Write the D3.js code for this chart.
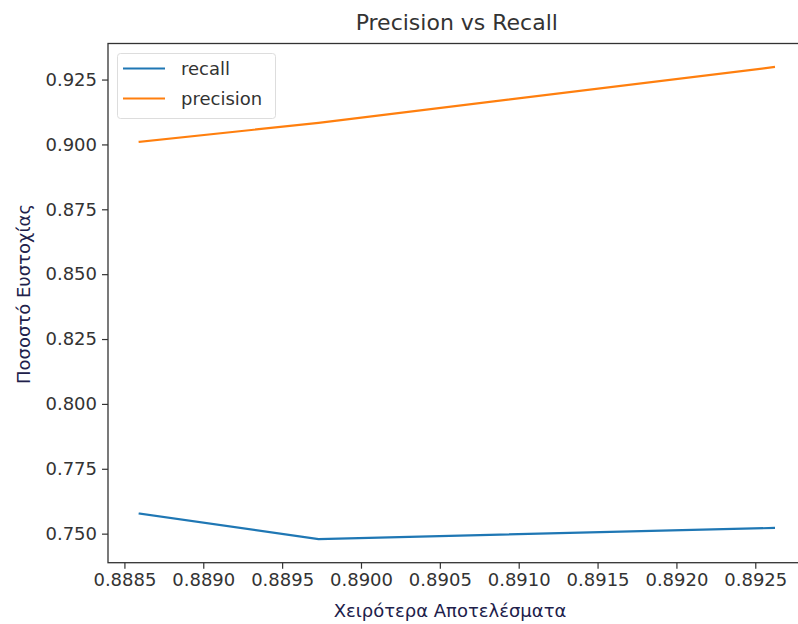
<!DOCTYPE html>
<html>
<head>
<meta charset="utf-8">
<script src="https://cdn.jsdelivr.net/npm/d3@7"></script>
<style>
  body { margin: 0; background: #fff; }
  svg { display: block; }
  text { font-family: "DejaVu Sans", sans-serif; }
</style>
</head>
<body>
<div id="chart"></div>
<script>
// data
const xValues = [0.888597, 0.889731, 0.892618];
const recall = [0.7577, 0.7479, 0.7522];
const precision = [0.9010, 0.9083, 0.9298];
const xTicks = [0.8885, 0.8890, 0.8895, 0.8900, 0.8905, 0.8910, 0.8915, 0.8920, 0.8925];
const yTicks = [0.750, 0.775, 0.800, 0.825, 0.850, 0.875, 0.900, 0.925];
const seriesNames = ["recall", "precision"];
const seriesColors = ["#1f77b4", "#ff7f0e"];

const width = 798, height = 624;
const margin = { top: 43.5, right: -7.6, bottom: 61.3, left: 108 };

const svg = d3.select("#chart")
  .append("svg")
  .attr("width", width)
  .attr("height", height);

// matplotlib-like 5% padding around the data
const xPad = (d3.max(xValues) - d3.min(xValues)) * 0.05;
const allY = recall.concat(precision);
const yPad = (d3.max(allY) - d3.min(allY)) * 0.05;

const x = d3.scaleLinear()
  .domain([d3.min(xValues) - xPad, d3.max(xValues) + xPad])
  .range([margin.left, width - margin.right]);

const y = d3.scaleLinear()
  .domain([d3.min(allY) - yPad, d3.max(allY) + yPad])
  .range([height - margin.bottom, margin.top]);

// lines
const series = [recall, precision];
const line = d3.line()
  .x((d, i) => x(xValues[i]))
  .y(d => y(d));

series.forEach((vals, k) => {
  svg.append("path")
    .datum(vals)
    .attr("fill", "none")
    .attr("stroke", seriesColors[k])
    .attr("stroke-width", 2.2)
    .attr("stroke-linecap", "square")
    .attr("d", line);
});

// axes
const xAxis = svg.append("g")
  .attr("transform", `translate(0,${height - margin.bottom})`)
  .call(d3.axisBottom(x).tickValues(xTicks).tickFormat(d3.format(".4f")).tickSizeOuter(0).tickSize(6).tickPadding(5));

const yAxis = svg.append("g")
  .attr("transform", `translate(${margin.left},0)`)
  .call(d3.axisLeft(y).tickValues(yTicks).tickFormat(d3.format(".3f")).tickSizeOuter(0).tickSize(6).tickPadding(5));

[xAxis, yAxis].forEach(g => {
  g.select(".domain").remove();
  g.selectAll(".tick line").attr("stroke", "#333").attr("stroke-width", 1.2);
  g.selectAll(".tick text")
    .attr("fill", "#333")
    .style("font-size", "18px")
    .style("font-family", "DejaVu Sans, sans-serif");
});

// spines
const x0 = x.range()[0], x1 = x.range()[1];
const y0 = y.range()[0], y1 = y.range()[1];
svg.append("rect")
  .attr("x", x0).attr("y", y1)
  .attr("width", x1 - x0).attr("height", y0 - y1)
  .attr("fill", "none")
  .attr("stroke", "#333")
  .attr("stroke-width", 1.3);

// title and labels
svg.append("text")
  .attr("x", (x0 + x1) / 2)
  .attr("y", 30)
  .attr("text-anchor", "middle")
  .style("font-size", "22px")
  .attr("fill", "#333")
  .text("Precision vs Recall");

svg.append("text")
  .attr("x", 450)
  .attr("y", 617)
  .attr("text-anchor", "middle")
  .style("font-size", "18px")
  .attr("fill", "#20204a")
  .text("Χειρότερα Αποτελέσματα");

svg.append("text")
  .attr("transform", "translate(30,294) rotate(-90)")
  .attr("text-anchor", "middle")
  .style("font-size", "18px")
  .attr("fill", "#20204a")
  .text("Ποσοστό Ευστοχίας");

// legend
const legend = svg.append("g");
legend.append("rect")
  .attr("x", 117.5).attr("y", 53.5)
  .attr("width", 158).attr("height", 65)
  .attr("rx", 3)
  .attr("fill", "#fff")
  .attr("fill-opacity", 0.8)
  .attr("stroke", "#ddd");

seriesNames.forEach((name, k) => {
  const ly = 68.5 + k * 30;
  legend.append("line")
    .attr("x1", 123).attr("x2", 165)
    .attr("y1", ly).attr("y2", ly)
    .attr("stroke", seriesColors[k])
    .attr("stroke-width", 2.2);
  legend.append("text")
    .attr("x", 181)
    .attr("y", ly + 6)
    .style("font-size", "18px")
    .attr("fill", "#333")
    .text(name);
});
</script>
</body>
</html>
